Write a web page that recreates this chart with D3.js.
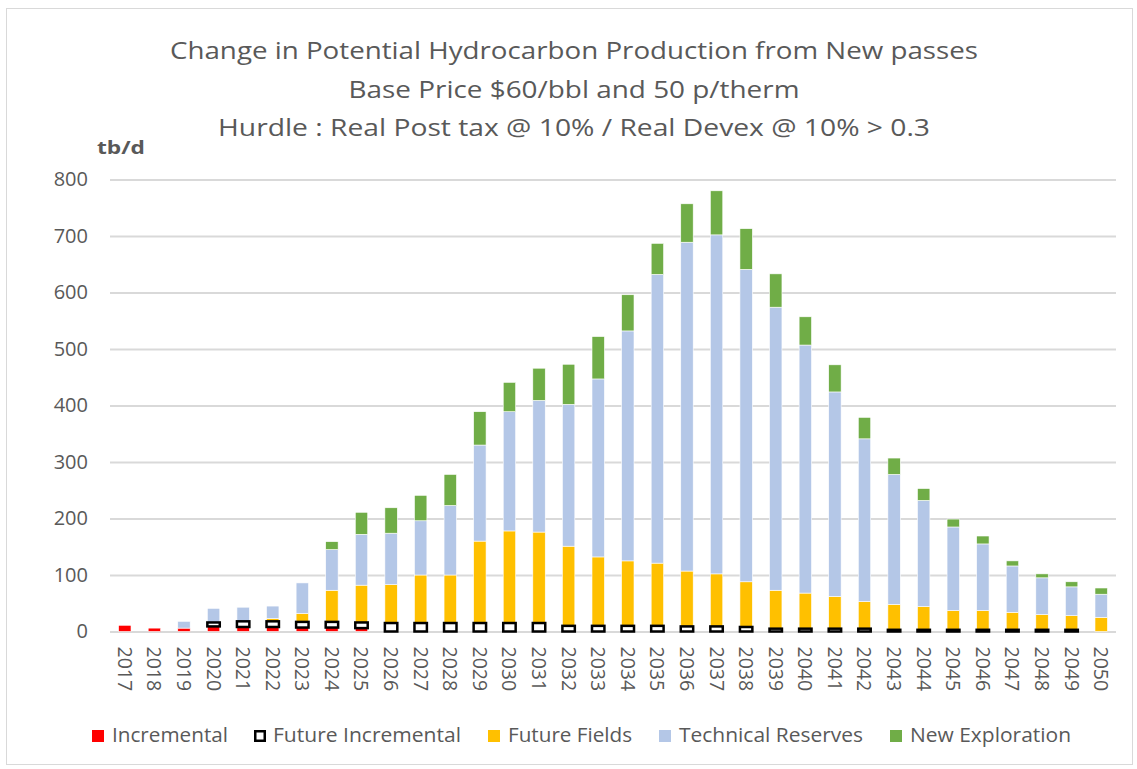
<!DOCTYPE html>
<html>
<head>
<meta charset="utf-8">
<script src="https://cdn.jsdelivr.net/npm/d3@7"></script>
<style>
  body { margin: 0; background: #fff; }
  svg { display: block; font-family: 'Open Sans', sans-serif; }
</style>
</head>
<body>
<svg id="chart" width="1137" height="769"></svg>
<script>
const years = ['2017', '2018', '2019', '2020', '2021', '2022', '2023', '2024', '2025', '2026',
  '2027', '2028', '2029', '2030', '2031', '2032', '2033', '2034', '2035', '2036',
  '2037', '2038', '2039', '2040', '2041', '2042', '2043', '2044', '2045', '2046',
  '2047', '2048', '2049', '2050'];

const incremental = [11, 6, 6, 9, 8, 8, 7, 7, 6, 0, 0, 0, 0, 0, 0, 0, 0, 0, 0, 0,
  0, 0, 0, 0, 0, 0, 0, 0, 0, 0, 0, 0, 0, 0];
const futureIncremental = [0, 0, 0, 7, 10, 10, 10, 10, 10, 15, 15, 15, 15, 15, 15, 10, 10, 10, 10, 9,
  9, 8, 5, 5, 5, 5, 3, 3, 3, 3, 3, 3, 3, 0];
const futureFields = [0, 0, 0, 0, 0, 5, 15, 56, 66, 68, 85, 85, 145, 163, 161, 141, 122, 115, 111, 98,
  93, 80, 68, 63, 57, 48, 45, 41, 34, 34, 31, 27, 25, 25];
const technicalReserves = [0, 0, 12, 25, 25, 22, 54, 72, 90, 91, 96, 123, 170, 211, 233, 251, 315, 407, 511, 582,
  600, 553, 501, 439, 362, 288, 230, 188, 148, 118, 82, 65, 51, 41];
const newExploration = [0, 0, 0, 0, 0, 0, 0, 14, 39, 45, 45, 55, 59, 52, 57, 71, 75, 64, 55, 68,
  78, 72, 59, 50, 48, 38, 29, 21, 14, 14, 9, 7, 9, 11];

const yTicks = [0, 100, 200, 300, 400, 500, 600, 700, 800];

const seriesNames = ['Incremental', 'Future Incremental', 'Future Fields', 'Technical Reserves', 'New Exploration'];
const seriesValues = [incremental, futureIncremental, futureFields, technicalReserves, newExploration];

const titleLines = [
  'Change in Potential Hydrocarbon Production from New passes',
  'Base Price $60/bbl and 50 p/therm',
  'Hurdle : Real Post tax @ 10% / Real Devex @ 10% > 0.3'
];

// styling / layout
const fills = ['#ff0000', '#ffffff', '#ffc000', '#b4c7e7', '#70ad47'];
const textColor = '#595959';
const titleWidths = [808, 451, 712];
const legendX = [92, 254, 488, 659, 890];
const legendTextWidths = [116, 188, 124, 184, 161];

const svg = d3.select('#chart');

// chart area frame
svg.append('rect')
  .attr('x', 6.5).attr('y', 8.5)
  .attr('width', 1126).attr('height', 756)
  .attr('fill', 'none')
  .attr('stroke', '#d9d9d9');

const x = d3.scaleBand().domain(years).range([110, 1116]);
const y = d3.scaleLinear().domain([0, 800]).range([631.5, 179.5]);
const barW = x.bandwidth() * 0.42;

// gridlines + y labels
const yAxis = svg.append('g')
  .attr('transform', 'translate(110,0)')
  .call(d3.axisLeft(y).tickValues(yTicks).tickSize(-1006).tickPadding(22));
yAxis.select('.domain').remove();
yAxis.selectAll('line').attr('stroke', '#d9d9d9').attr('stroke-width', 2);
yAxis.selectAll('text')
  .attr('fill', textColor)
  .style('font-size', '20px')
  .style('font-family', "'Open Sans', sans-serif");

// x labels, rotated
const xAxis = svg.append('g')
  .attr('transform', `translate(0,${y(0)})`)
  .call(d3.axisBottom(x).tickSize(0));
xAxis.select('.domain').remove();
xAxis.selectAll('text')
  .attr('transform', 'rotate(90)')
  .attr('x', 15)
  .attr('y', 0)
  .attr('dy', '0.36em')
  .style('text-anchor', 'start')
  .attr('fill', textColor)
  .style('font-size', '19.5px')
  .style('font-family', "'Open Sans', sans-serif");

// stacked bars
const rows = years.map((yr, i) => {
  const row = { year: yr };
  seriesNames.forEach((name, k) => { row[name] = seriesValues[k][i]; });
  return row;
});
const stacked = d3.stack().keys(seriesNames)(rows);

const layers = svg.append('g').selectAll('g')
  .data(stacked)
  .enter().append('g')
    .attr('fill', (d, i) => fills[i]);

layers.selectAll('rect')
  .data((d) => d.filter((s) => s[1] - s[0] > 0))
  .enter().append('rect')
    .attr('x', (d) => x(d.data.year) + (x.bandwidth() - barW) / 2)
    .attr('y', (d) => y(d[1]))
    .attr('width', barW)
    .attr('height', (d) => y(d[0]) - y(d[1]))
    .attr('stroke', '#ffffff')
    .attr('stroke-width', 0.6);

// future incremental boxes go on top so the black outline is not hidden
layers.filter((d, i) => i === 1)
  .raise()
  .selectAll('rect')
    .attr('stroke', '#000000')
    .attr('stroke-width', 2.5);

// title
svg.append('g').selectAll('text')
  .data(titleLines)
  .enter().append('text')
    .attr('x', 574)
    .attr('y', (d, i) => 59 + i * 38.5)
    .attr('text-anchor', 'middle')
    .attr('fill', textColor)
    .style('font-size', '23px')
    .attr('textLength', (d, i) => titleWidths[i])
    .attr('lengthAdjust', 'spacingAndGlyphs')
    .text((d) => d);

// unit label
svg.append('text')
  .attr('x', 97)
  .attr('y', 154)
  .attr('fill', textColor)
  .style('font-size', '18px')
  .style('font-weight', 'bold')
  .attr('textLength', 48)
  .attr('lengthAdjust', 'spacingAndGlyphs')
  .text('tb/d');

// legend
const legend = svg.append('g').selectAll('g')
  .data(seriesNames)
  .enter().append('g')
    .attr('transform', (d, i) => `translate(${legendX[i]},730)`);

legend.append('rect')
  .attr('x', (d, i) => (i === 1 ? 1.25 : 0))
  .attr('y', (d, i) => (i === 1 ? 1.25 : 0))
  .attr('width', (d, i) => (i === 1 ? 9.5 : 12))
  .attr('height', (d, i) => (i === 1 ? 9.5 : 12))
  .attr('fill', (d, i) => fills[i])
  .attr('stroke', (d, i) => (i === 1 ? '#000' : 'none'))
  .attr('stroke-width', 2.5);

legend.append('text')
  .attr('x', (d, i) => (i === 1 ? 19 : 20))
  .attr('y', 12)
  .attr('fill', textColor)
  .style('font-size', '19.5px')
  .attr('textLength', (d, i) => legendTextWidths[i])
  .attr('lengthAdjust', 'spacingAndGlyphs')
  .text((d) => d);
</script>
</body>
</html>
